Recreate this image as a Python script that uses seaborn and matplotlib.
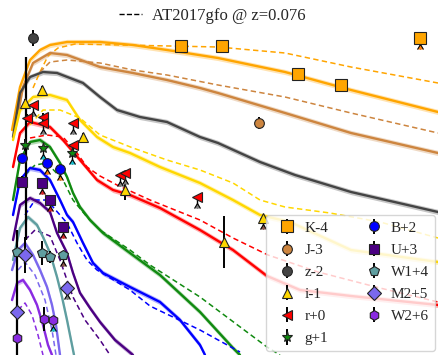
import numpy as np
import pandas as pd
import matplotlib
matplotlib.use("Agg")
import matplotlib.pyplot as plt
from matplotlib.lines import Line2D
import seaborn as sns

# bands, legend labels (with offsets), colours and markers
bands = ["K", "J", "z", "i", "r", "g", "B", "U", "W1", "M2", "W2"]
labels = ["K-4", "J-3", "z-2", "i-1", "r+0", "g+1", "B+2", "U+3", "W1+4", "M2+5", "W2+6"]
colors = ["#FFA500", "#CD853F", "#444444", "#FFD700", "#FF0000", "#108A10",
          "#0000FF", "#4B0082", "#5F9EA0", "#7B68EE", "#8A2BE2"]
markers = ["s", "o", "o", "^", "<", "*", "o", "s", "p", "D", "h"]

# model light curves (solid) : days since merger, offset magnitude
K_model_t = [0.1, 0.5, 1.0, 1.5, 2.0, 2.85, 4.5, 6.15, 7.85, 10.4, 13.75, 17.05, 21.4]
K_model_m = [21.5, 19.35, 18.0, 17.5, 17.25, 17.1, 17.1, 17.25, 17.5, 17.9, 18.6, 19.5, 20.6]
J_model_t = [0.25, 0.65, 1.15, 2.0, 2.85, 4.5, 6.15, 7.85, 9.5, 10.4, 13.75, 17.05, 21.4]
J_model_m = [21.5, 19.35, 18.15, 17.65, 17.75, 18.35, 18.65, 19.0, 19.4, 19.65, 20.65, 21.65, 22.65]
z_model_t = [0.15, 0.5, 1.0, 1.65, 2.35, 3.65, 4.5, 5.35, 6.5, 7.85, 9.5, 10.4, 12.5, 14.25, 17.05, 21.4]
z_model_m = [21.85, 19.65, 18.85, 18.6, 18.65, 19.15, 19.85, 20.5, 20.85, 21.1, 21.85, 22.15, 23.1, 23.75, 24.6, 25.6]
i_model_t = [0.15, 0.5, 1.15, 2.0, 2.85, 3.5, 4.35, 5.15, 6.0, 7.5, 9.5, 11.15, 12.5, 14.0, 17.05, 21.4]
i_model_m = [22.0, 20.5, 19.85, 19.75, 20.0, 21.0, 21.85, 22.35, 22.65, 23.35, 24.15, 25.0, 25.75, 26.1, 27.5, 28.1]
r_model_t = [0.15, 0.5, 1.0, 2.0, 2.65, 3.5, 4.35, 5.15, 6.0, 7.5, 9.5, 11.15, 12.85, 14.5, 17.05, 21.4]
r_model_m = [23.35, 21.65, 21.1, 21.35, 22.0, 23.0, 24.0, 24.5, 24.75, 25.4, 26.5, 27.5, 28.8, 29.5, 29.8, 30.25]
g_model_t = [0.15, 0.5, 1.0, 1.5, 2.0, 2.5, 2.85, 3.15, 3.5, 4.0, 4.65, 6.0, 7.5, 9.5, 11.15, 11.5]
g_model_m = [25.0, 23.0, 22.1, 22.0, 22.35, 23.15, 23.85, 24.65, 25.35, 26.0, 26.65, 27.65, 28.75, 30.6, 32.4, 32.75]
B_model_t = [0.15, 0.5, 1.0, 1.5, 2.0, 2.5, 2.85, 3.15, 3.65, 4.15, 4.65, 6.0, 7.5, 8.5, 9.5, 9.75]
B_model_m = [25.75, 24.0, 23.4, 23.5, 24.0, 25.0, 25.75, 26.1, 27.15, 28.15, 28.65, 29.35, 30.1, 31.0, 32.25, 32.75]
U_model_t = [0.15, 0.5, 1.0, 1.5, 2.0, 2.35, 2.85, 3.15, 3.5, 4.0, 4.5, 5.25, 6.15]
U_model_m = [27.0, 25.25, 24.9, 25.15, 25.6, 26.65, 27.65, 28.65, 29.65, 30.4, 31.1, 32.0, 32.75]
W1_model_t = [0.15, 0.5, 0.9, 1.35, 1.65, 2.0, 2.35, 2.6, 2.85, 3.05, 3.2]
W1_model_m = [28.0, 26.4, 25.85, 26.25, 26.85, 27.65, 28.85, 29.85, 31.0, 32.0, 32.75]
M2_model_t = [0.1, 0.4, 0.75, 1.15, 1.5, 1.85, 2.1, 2.3, 2.5]
M2_model_m = [28.5, 27.5, 27.15, 27.75, 28.5, 29.35, 30.25, 31.25, 32.75]
W2_model_t = [0.1, 0.35, 0.65, 1.0, 1.35, 1.65, 1.9, 2.1]
W2_model_m = [30.0, 29.15, 29.0, 29.5, 30.25, 31.25, 32.25, 32.75]

# AT2017gfo shifted to z=0.076 (dashed)
K_gfo_t = [1.15, 1.5, 1.9, 2.4, 3.25, 5.5, 8.0, 10.4, 13.75, 17.05, 21.4]
K_gfo_m = [19.4, 18.6, 17.8, 17.4, 17.2, 17.25, 17.3, 17.35, 17.65, 18.35, 19.15]
J_gfo_t = [1.5, 2.0, 2.85, 4.5, 6.15, 7.85, 10.4, 13.75, 17.05, 21.4]
J_gfo_m = [18.6, 18.1, 18.0, 18.15, 18.5, 18.75, 19.25, 19.85, 20.65, 21.65]
i_gfo_t = [1.0, 1.65, 2.5, 3.5, 4.5, 6.15, 7.85, 9.5, 11.15, 12.5, 13.75, 16.0, 18.5, 21.4]
i_gfo_m = [21.25, 20.5, 20.5, 20.9, 21.75, 22.4, 23.0, 23.5, 24.15, 25.0, 25.35, 25.65, 26.1, 26.9]
r_gfo_t = [1.0, 1.85, 2.65, 3.35, 3.85, 4.5, 5.35, 7.0, 9.5, 11.15, 12.9, 15.4, 18.5, 21.4]
r_gfo_m = [21.9, 21.75, 21.85, 22.65, 23.35, 23.8, 24.25, 25.0, 26.0, 26.9, 27.75, 28.6, 29.4, 30.1]
g_gfo_t = [0.75, 1.25, 1.85, 2.65, 3.15, 3.85, 4.5, 6.0, 7.0, 9.5, 12.85, 13.5]
g_gfo_m = [23.75, 23.25, 23.15, 24.0, 25.0, 25.85, 26.5, 27.5, 28.25, 29.85, 32.35, 32.75]
B_gfo_t = [0.75, 1.25, 1.75, 2.15, 2.85, 3.35, 3.85, 4.35, 6.0, 7.0, 9.5, 11.5]
B_gfo_m = [25.75, 25.0, 25.0, 25.35, 26.15, 27.15, 28.0, 28.5, 29.5, 30.3, 31.5, 32.6]
U_gfo_t = [0.75, 1.25, 2.0, 2.5, 2.85, 3.15, 3.75, 4.5, 5.0]
U_gfo_m = [27.0, 26.5, 26.8, 28.0, 29.0, 29.85, 31.0, 32.0, 32.75]
M2_gfo_t = [0.4, 0.75, 1.25, 1.75, 2.1, 2.3]
M2_gfo_m = [28.5, 28.1, 28.75, 30.0, 31.5, 32.75]
W2_gfo_t = [0.4, 0.75, 1.1, 1.4, 1.65]
W2_gfo_m = [30.5, 30.15, 30.75, 31.75, 32.75]

# observations: time, mag, error, upper limit flag
K_obs_t = [8.55, 10.6, 14.4, 16.55, 20.5]
K_obs_m = [17.3, 17.3, 18.7, 19.25, 16.9]
K_obs_e = [0.2, 0.2, 0.25, 0.25, 0]
K_obs_ul = [0, 0, 0, 0, 1]
J_obs_t = [12.45]
J_obs_m = [21.15]
J_obs_e = [0.3]
J_obs_ul = [0]
z_obs_t = [1.15]
z_obs_m = [16.9]
z_obs_e = [0.4]
z_obs_ul = [0]
i_obs_t = [0.75, 1.6, 3.65, 5.75, 10.7, 12.65]
i_obs_m = [20.15, 19.5, 21.85, 24.5, 27.1, 25.9]
i_obs_e = [0.2, 0.2, 0.2, 0.5, 1.3, 0]
i_obs_ul = [0, 0, 0, 0, 0, 1]
r_obs_t = [0.85, 1.15, 1.65, 1.65, 3.15, 3.15, 5.5, 5.75, 9.35]
r_obs_m = [20.9, 20.25, 20.85, 21.15, 21.15, 22.25, 23.75, 23.65, 24.85]
r_obs_e = [0.2, 0, 0.2, 0, 0, 0, 0, 0, 0]
r_obs_ul = [0, 1, 0, 1, 1, 1, 1, 1, 1]
g_obs_t = [0.75, 1.65, 3.1]
g_obs_m = [22.25, 22.4, 22.65]
g_obs_e = [0.3, 0, 0]
g_obs_ul = [0, 1, 1]
B_obs_t = [0.6, 1.85, 2.5]
B_obs_m = [22.9, 23.15, 23.45]
B_obs_e = [0.2, 0, 0]
B_obs_ul = [0, 1, 1]
U_obs_t = [0.6, 1.6, 2.0, 2.65]
U_obs_m = [24.1, 24.15, 25.0, 26.35]
U_obs_e = [0.3, 0, 0, 0]
U_obs_ul = [0, 1, 1, 1]
W1_obs_t = [0.35, 1.6, 2.0, 2.65]
W1_obs_m = [27.6, 27.65, 27.85, 27.75]
W1_obs_e = [0.3, 0.6, 0.3, 0]
W1_obs_ul = [0, 0, 0, 1]
M2_obs_t = [0.75, 0.35, 2.85]
M2_obs_m = [27.75, 30.6, 29.4]
M2_obs_e = [0.9, 0.3, 0]
M2_obs_ul = [0, 0, 1]
W2_obs_t = [0.35, 1.7, 2.15]
W2_obs_m = [31.9, 30.95, 31.0]
W2_obs_e = [0.3, 0.6, 0]
W2_obs_ul = [0, 0, 1]

# very poorly constrained early detections (long black error bars)
early_t = [0.8, 0.35]
early_lo = [17.85, 26.5]
early_hi = [27.0, 32.75]

models = {"K": (K_model_t, K_model_m), "J": (J_model_t, J_model_m), "z": (z_model_t, z_model_m),
          "i": (i_model_t, i_model_m), "r": (r_model_t, r_model_m), "g": (g_model_t, g_model_m),
          "B": (B_model_t, B_model_m), "U": (U_model_t, U_model_m), "W1": (W1_model_t, W1_model_m),
          "M2": (M2_model_t, M2_model_m), "W2": (W2_model_t, W2_model_m)}
gfo = {"K": (K_gfo_t, K_gfo_m), "J": (J_gfo_t, J_gfo_m), "i": (i_gfo_t, i_gfo_m),
       "r": (r_gfo_t, r_gfo_m), "g": (g_gfo_t, g_gfo_m), "B": (B_gfo_t, B_gfo_m),
       "U": (U_gfo_t, U_gfo_m), "M2": (M2_gfo_t, M2_gfo_m), "W2": (W2_gfo_t, W2_gfo_m)}
obs = {"K": (K_obs_t, K_obs_m, K_obs_e, K_obs_ul), "J": (J_obs_t, J_obs_m, J_obs_e, J_obs_ul),
       "z": (z_obs_t, z_obs_m, z_obs_e, z_obs_ul), "i": (i_obs_t, i_obs_m, i_obs_e, i_obs_ul),
       "r": (r_obs_t, r_obs_m, r_obs_e, r_obs_ul), "g": (g_obs_t, g_obs_m, g_obs_e, g_obs_ul),
       "B": (B_obs_t, B_obs_m, B_obs_e, B_obs_ul), "U": (U_obs_t, U_obs_m, U_obs_e, U_obs_ul),
       "W1": (W1_obs_t, W1_obs_m, W1_obs_e, W1_obs_ul), "M2": (M2_obs_t, M2_obs_m, M2_obs_e, M2_obs_ul),
       "W2": (W2_obs_t, W2_obs_m, W2_obs_e, W2_obs_ul)}

rows = []
for b in bands:
    for t, m in zip(*models[b]):
        rows.append((b, "model", t, m))
    if b in gfo:
        for t, m in zip(*gfo[b]):
            rows.append((b, "gfo", t, m))
df = pd.DataFrame(rows, columns=["band", "kind", "day", "mag"])

sns.set_style("white")
plt.rcParams["font.family"] = ["Liberation Serif", "DejaVu Serif"]

fig = plt.figure(figsize=(4.38, 3.55), dpi=100)
ax = fig.add_axes([0, 0, 1, 1])
palette = dict(zip(bands, colors))

# shaded uncertainty band around the model curves
for b in bands:
    t, m = np.array(models[b][0]), np.array(models[b][1])
    ax.fill_between(t, m - 0.13, m + 0.13, color=palette[b], alpha=0.3, lw=0, zorder=1)

sns.lineplot(data=df, x="day", y="mag", hue="band", style="kind", size="kind",
             palette=palette, dashes={"model": "", "gfo": (3.5, 2.2)},
             sizes={"model": 1.7, "gfo": 1.1}, sort=False, estimator=None,
             legend=False, ax=ax, zorder=2)

ax.vlines(early_t, early_lo, early_hi, color="k", lw=1.6, zorder=3)

for b, lab, c, mk in zip(bands, labels, colors, markers):
    t, m, e, ul = [np.array(v) for v in obs[b]]
    ms = 8.5 if b == "K" else (8 if mk == "*" else 7)
    det = ul == 0
    ax.errorbar(t[det], m[det], yerr=e[det], fmt=mk, mfc=c, mec="#222222", mew=0.8,
                ms=ms, ecolor="k", elinewidth=1.4, capsize=0, label=lab, zorder=5)
    if (~det).any():
        ax.errorbar(t[~det], m[~det], yerr=0.55, lolims=True, fmt=mk, mfc=c,
                    mec="#222222", mew=0.8, ms=ms, ecolor="k", elinewidth=1.0,
                    capsize=2.5, zorder=5)

ax.set_xlim(-0.5, 21.4)
ax.set_ylim(32.75, 15.0)
ax.axis("off")

leg = ax.legend(ncol=2, loc="upper left", bbox_to_anchor=(266 / 438, 1 - 215 / 355),
                bbox_transform=fig.transFigure, borderaxespad=0, fontsize=11,
                handlelength=2.0, handletextpad=0.1, borderpad=0.4, labelspacing=0.55,
                columnspacing=2.0, frameon=True, framealpha=0.8, edgecolor="#cccccc",
                fancybox=True)
leg.set_zorder(10)

fig.legend(handles=[Line2D([], [], color="k", ls="--", lw=1.0)], labels=["AT2017gfo @ z=0.076"],
           loc="upper center", bbox_to_anchor=(0.485, 1.02), frameon=False, fontsize=12,
           handlelength=1.4, handletextpad=0.6)

fig.savefig("out.png", dpi=100)
